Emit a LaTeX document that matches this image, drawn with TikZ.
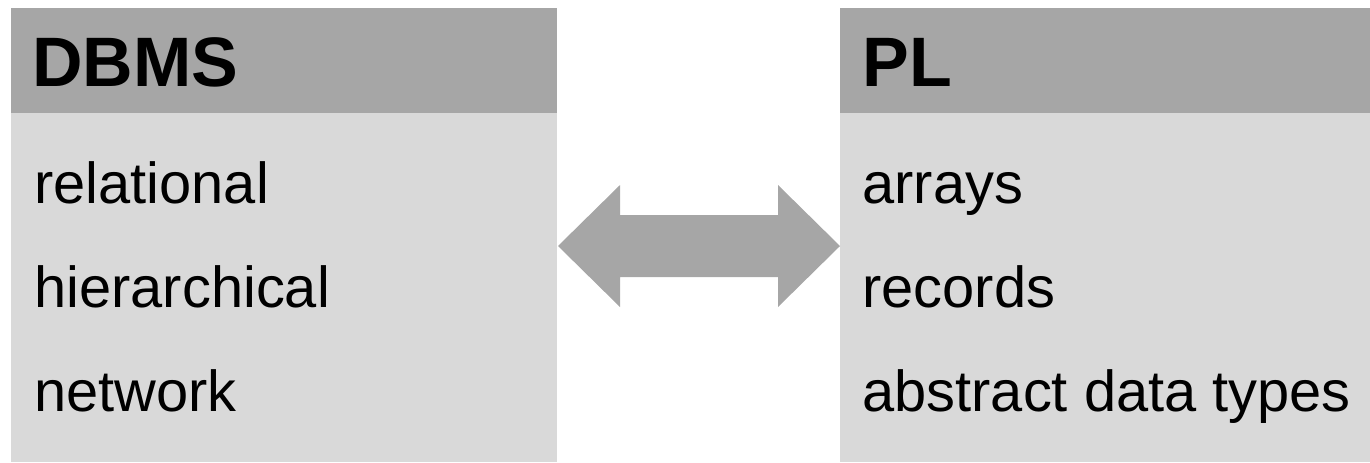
\documentclass[tikz,border=0pt]{standalone}
\usepackage{fontspec}
\setmainfont{Liberation Sans}

\definecolor{headgray}{HTML}{A6A6A6}
\definecolor{bodygray}{HTML}{D9D9D9}

\tikzset{headbox/.style={fill=headgray, inner sep=0pt, anchor=north west, minimum height=52.5pt},
  bodybox/.style={fill=bodygray, inner sep=0pt, anchor=north west, minimum height=174.5pt},
  headtext/.style={inner sep=0pt, anchor=base west, font=\fontsize{35}{42}\selectfont\bfseries},
  itemtext/.style={inner sep=0pt, anchor=base west, font=\fontsize{28.9}{34}\selectfont}}

\begin{document}
\begin{tikzpicture}[x=0.5pt,y=-0.5pt]
\useasboundingbox (0,0) rectangle (1370,462);

\node[bodybox, minimum width=273pt] (dbmsbody) at (11,113) {};
\node[headbox, minimum width=273pt] (dbmshead) at (11,8) {};
\node[bodybox, minimum width=265pt] (plbody) at (840,113) {};
\node[headbox, minimum width=265pt] (plhead) at (840,8) {};

\node[headtext] (dbms) at (32,86) {DBMS};
\node[itemtext] (relational) at (34,203) {relational};
\node[itemtext] (hierarchical) at (34,307) {hierarchical};
\node[itemtext] (network) at (34,411) {network};

\node[headtext] (pl) at (862,86) {PL};
\node[itemtext] (arrays) at (862,203) {arrays};
\node[itemtext] (records) at (862,307) {records};
\node[itemtext] (adt) at (862,411) {abstract data types};

% double arrow between the two boxes
\coordinate (ltip) at (558,246);
\coordinate (rtip) at (840,246);
\fill[headgray] (ltip) -- (620,185) -- (620,215) -- (778,215) -- (778,185) -- (rtip)
  -- (778,307) -- (778,277) -- (620,277) -- (620,307) -- cycle;
\end{tikzpicture}
\end{document}
